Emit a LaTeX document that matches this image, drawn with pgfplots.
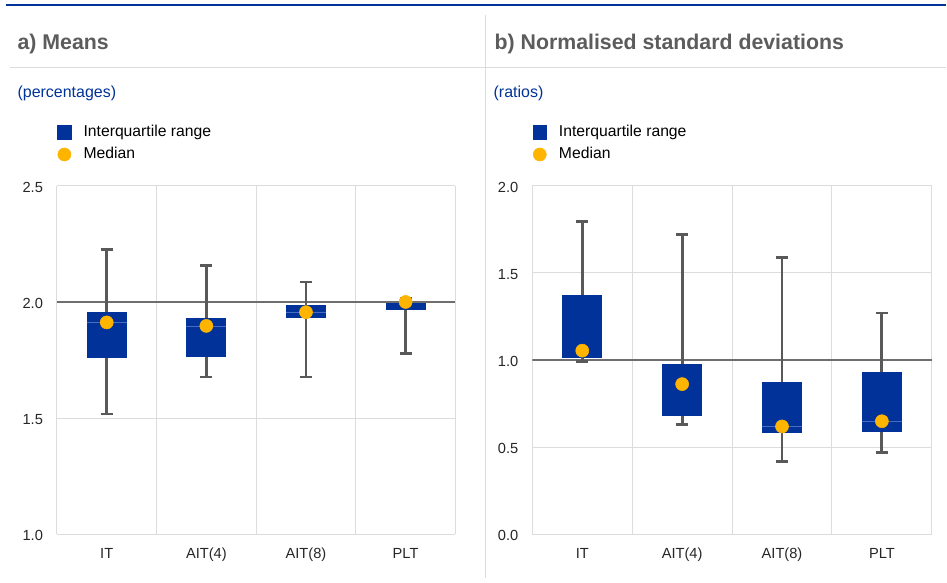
\documentclass[border=0pt]{standalone}
\usepackage{pgfplots}
\pgfplotsset{compat=1.18}
\usepackage{fontspec}
\setmainfont{Liberation Sans}

\definecolor{ecbblue}{HTML}{003299}
\definecolor{ecborange}{HTML}{FFB400}
\definecolor{whiskgray}{HTML}{595959}
\definecolor{refgray}{HTML}{6E6E6E}
\definecolor{gridgray}{HTML}{DCDCDC}
\definecolor{titlegray}{HTML}{5C5C5C}
\definecolor{medblue}{HTML}{4A6CC0}

\pgfplotsset{
  whiskers/.style={forget plot, draw=none, mark=none,
    error bars/.cd, y dir=both, y explicit,
    error bar style={draw=whiskgray, line width=2.2pt},
    error mark options={rotate=90, draw=whiskgray, line width=2.2pt, mark size=4.5pt}},
  iqr/.style={forget plot, fill=ecbblue, draw=none},
  medline/.style={forget plot, draw=medblue, line width=0.5pt},
  panel/.style={
    scale only axis,
    height=261.75pt,
    xmin=-0.5, xmax=3.5,
    xtick={0,1,2,3},
    xticklabels={IT,AIT(4),AIT(8),PLT},
    minor xtick={-0.5,0.5,1.5,2.5,3.5},
    xminorgrids, ymajorgrids,
    grid style={draw=gridgray, line width=0.8pt},
    minor grid style={draw=gridgray, line width=0.8pt},
    axis line style={draw=none},
    major tick length=0pt, minor tick length=0pt,
    tick label style={font=\fontsize{11}{13}\selectfont, text=black!85, inner sep=0pt},
    xticklabel style={anchor=base, yshift=-18.2pt},
    yticklabel style={anchor=base east, xshift=-10.3pt, yshift=-4.7pt},
    /pgf/number format/fixed,
    /pgf/number format/fixed zerofill,
    /pgf/number format/precision=1,
    /pgf/number format/assume math mode=true,
    legend style={draw=none, fill=none, inner sep=0pt, at={(0,1)}, anchor=north west,
      yshift=46pt, font=\fontsize{11.8}{13}\selectfont, row sep=5.5pt,
      nodes={inner sep=0pt, text height=8.6pt, text depth=2.6pt},
      /tikz/every odd column/.append style={column sep=9pt}},
    legend cell align=left,
  },
}

\begin{document}
\begin{tikzpicture}
\path (0,0) rectangle (710.25pt,-437.25pt);
% frame lines
\draw[ecbblue, line width=1.8pt] (4.5pt,-3.75pt) -- (710.25pt,-3.75pt);
\draw[gridgray, line width=0.9pt] (364.5pt,-11.25pt) -- (364.5pt,-434pt);
\draw[gridgray, line width=1pt] (7.5pt,-50.6pt) -- (710.25pt,-50.6pt);
% titles
\node[anchor=base west, inner sep=0pt, text=titlegray, font=\bfseries\fontsize{16}{18}\selectfont] at (13pt,-37.5pt) {a) Means};
\node[anchor=base west, inner sep=0pt, text=titlegray, font=\bfseries\fontsize{16}{18}\selectfont] at (371.25pt,-37.5pt) {b) Normalised standard deviations};
\node[anchor=base west, inner sep=0pt, text=ecbblue, font=\fontsize{12}{14}\selectfont] at (13pt,-73.1pt) {(percentages)};
\node[anchor=base west, inner sep=0pt, text=ecbblue, font=\fontsize{12}{14}\selectfont] at (370.5pt,-73.1pt) {(ratios)};

% a) Means
\begin{axis}[panel, at={(42.75pt,-401.25pt)}, anchor=south west, width=299.25pt,
  ymin=1, ymax=2.5, ytick={1,1.5,2,2.5}]
\addlegendimage{legend image code/.code={\fill[ecbblue] (0pt,-5.2pt) rectangle (10.4pt,5.2pt);}}
\addlegendentry{Interquartile range}
\addlegendimage{legend image code/.code={\fill[ecborange] (5.2pt,0pt) circle (4.9pt);}}
\addlegendentry{Median}
\addplot[forget plot, refgray, line width=1.1pt] coordinates {(-0.5,2) (3.5,2)};
% whiskers: median, up to max, down to min
\addplot[whiskers] coordinates {
  (0,1.912) += (0,0.313) -= (0,0.394)
  (1,1.897) += (0,0.259) -= (0,0.220)
  (2,1.956) += (0,0.130) -= (0,0.279)
  (3,2.000) += (0,0.017) -= (0,0.223)};
% interquartile boxes
\addplot[iqr] coordinates {(-0.2,1.758) (0.2,1.758) (0.2,1.956) (-0.2,1.956)} -- cycle;
\addplot[iqr] coordinates {(0.8,1.761) (1.2,1.761) (1.2,1.929) (0.8,1.929)} -- cycle;
\addplot[iqr] coordinates {(1.8,1.930) (2.2,1.930) (2.2,1.985) (1.8,1.985)} -- cycle;
\addplot[iqr] coordinates {(2.8,1.966) (3.2,1.966) (3.2,1.997) (2.8,1.997)} -- cycle;
\addplot[medline] coordinates {(-0.2,1.912) (0.2,1.912)};
\addplot[medline] coordinates {(0.8,1.897) (1.2,1.897)};
\addplot[medline] coordinates {(1.8,1.956) (2.2,1.956)};
% medians
\addplot[forget plot, only marks, mark=*, mark size=4.9pt, ecborange] coordinates {
  (0,1.912) (1,1.897) (2,1.956) (3,2.0)};
\end{axis}

% b) Normalised standard deviations
\begin{axis}[panel, at={(399.75pt,-401.25pt)}, anchor=south west, width=300pt,
  ymin=0, ymax=2, ytick={0,0.5,1,1.5,2}]
\addlegendimage{legend image code/.code={\fill[ecbblue] (0pt,-5.2pt) rectangle (10.4pt,5.2pt);}}
\addlegendentry{Interquartile range}
\addlegendimage{legend image code/.code={\fill[ecborange] (5.2pt,0pt) circle (4.9pt);}}
\addlegendentry{Median}
\addplot[forget plot, refgray, line width=1.1pt] coordinates {(-0.5,1) (3.5,1)};
\addplot[whiskers] coordinates {
  (0,1.054) += (0,0.739) -= (0,0.060)
  (1,0.862) += (0,0.856) -= (0,0.233)
  (2,0.619) += (0,0.970) -= (0,0.199)
  (3,0.649) += (0,0.621) -= (0,0.179)};
\addplot[iqr] coordinates {(-0.2,1.011) (0.2,1.011) (0.2,1.376) (-0.2,1.376)} -- cycle;
\addplot[iqr] coordinates {(0.8,0.678) (1.2,0.678) (1.2,0.975) (0.8,0.975)} -- cycle;
\addplot[iqr] coordinates {(1.8,0.583) (2.2,0.583) (2.2,0.872) (1.8,0.872)} -- cycle;
\addplot[iqr] coordinates {(2.8,0.590) (3.2,0.590) (3.2,0.931) (2.8,0.931)} -- cycle;
\addplot[medline] coordinates {(1.8,0.619) (2.2,0.619)};
\addplot[medline] coordinates {(2.8,0.649) (3.2,0.649)};
\addplot[forget plot, only marks, mark=*, mark size=4.9pt, ecborange] coordinates {
  (0,1.054) (1,0.862) (2,0.619) (3,0.649)};
\end{axis}
\end{tikzpicture}
\end{document}
